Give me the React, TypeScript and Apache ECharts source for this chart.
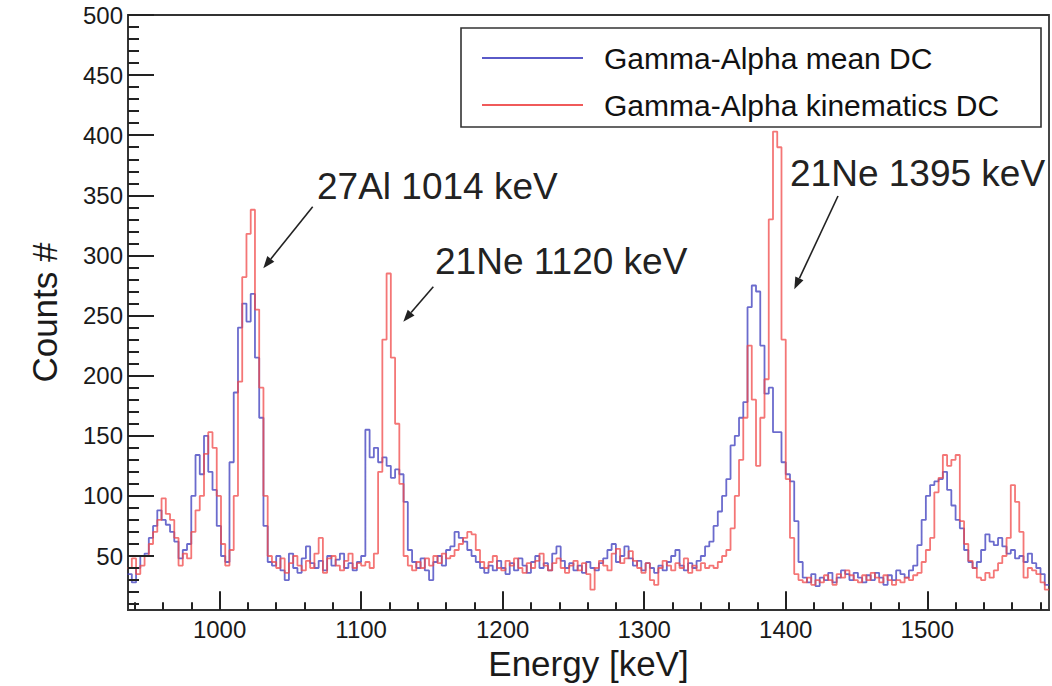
import React, { useEffect, useRef } from "react";
import * as echarts from "echarts";

// ---- data -------------------------------------------------------------
const BIN_START = 935; // keV, lower edge of first bin
const BIN_WIDTH = 3; // keV
const X_MIN = 935.3;
const X_MAX = 1586;
const Y_MIN = 5;
const Y_MAX = 500;

const seriesNames = ["Gamma-Alpha mean DC", "Gamma-Alpha kinematics DC"];

const meanDC = [
  35, 28, 40, 50, 52, 65, 75, 88, 80, 76, 70, 62, 48, 55, 60, 100, 134, 118, 150, 120,
  105, 75, 50, 45, 128, 186, 240, 260, 245, 268, 215, 165, 75, 45,
  42, 50, 38, 30, 52, 40, 36, 48, 58, 44, 40, 46, 38, 50, 42, 47, 52, 40, 44, 38, 45,
  50, 155, 132, 140, 128, 132, 125, 115, 122, 118, 95, 55, 45, 40, 48, 38, 30, 45, 50,
  42, 55, 58, 70, 65, 62, 55, 50, 45, 40,
  36, 42, 38, 46, 40, 35, 44, 38, 48, 42, 36, 45, 50, 40, 44, 38, 52, 58, 46, 40,
  44, 38, 42, 36, 45, 40, 38, 44, 48, 55, 60, 45, 50, 58, 48, 42, 46, 38, 44, 40,
  36, 42, 38, 45, 50, 55, 42, 38, 44, 40, 46, 50, 58,
  62, 75, 87, 100, 114, 142, 150, 165, 178, 257, 275, 270, 225, 185, 190, 153, 153, 128,
  118, 112, 79, 45, 32,
  28, 35, 25, 32, 30, 36, 28, 32, 38, 35, 30, 36, 32, 28, 34, 30, 36, 32, 26, 34, 30, 38,
  35, 32, 38, 42, 59, 80, 100, 109, 112, 114, 120, 105, 92, 80, 73, 55, 45, 40, 45, 55,
  68, 62, 59, 65, 58, 52, 55, 48, 50, 45, 52, 44, 40, 35, 26,
];

const kinematicsDC = [
  40, 48, 35, 42, 50, 60, 70, 80, 98, 85, 80, 65, 42, 52, 48, 70, 88, 100, 135, 153,
  140, 100, 60, 42, 55, 100, 195, 282, 318, 338, 255, 190, 100, 50,
  45, 40, 48, 36, 44, 50, 42, 38, 46, 40, 52, 65, 36, 48, 50, 42, 38, 46, 52, 40, 44,
  42, 45, 40, 52, 120, 230, 285, 215, 160, 110, 50, 42, 38, 45, 40, 48, 42, 50, 44,
  52, 48, 50, 55, 60, 65, 70, 68, 55, 45,
  40, 45, 50, 40, 38, 46, 42, 48, 40, 36, 44, 40, 46, 52, 42, 38, 44, 48, 40, 36,
  42, 46, 38, 44, 35, 22, 40, 46, 42, 38, 52, 56, 44, 48, 54, 46, 40, 36, 44, 30,
  26, 40, 46, 42, 38, 44, 40, 48, 36, 42, 38, 44, 40,
  42, 40, 45, 50, 55, 73, 100, 130, 165, 225, 180, 125, 165, 197, 330, 403, 390, 230,
  114, 65, 35, 30, 28,
  32, 26, 30, 28, 34, 30, 26, 35, 32, 38, 34, 30, 28, 34, 30, 36, 32, 28, 34, 30, 26, 30,
  28, 32, 30, 34, 36, 45, 55, 65, 103, 115, 134, 125, 130, 134, 79, 60, 46, 40, 32, 30,
  36, 32, 38, 44, 50, 65, 109, 95, 70, 32, 40, 38, 35, 28, 22,
];

const xMajorTicks = [1000, 1100, 1200, 1300, 1400, 1500];
const yMajorTicks = [50, 100, 150, 200, 250, 300, 350, 400, 450, 500];
const X_MINOR_STEP = 20;
const Y_MINOR_STEP = 10;

const annotationTexts = ["27Al 1014 keV", "21Ne 1120 keV", "21Ne 1395 keV"];

// ---- layout -----------------------------------------------------------
const W = 1052;
const H = 686;
const GRID = { left: 128, top: 15, right: 3, bottom: 70 };
const PX_PER_KEV = (W - GRID.left - GRID.right) / (X_MAX - X_MIN);
const PX_PER_COUNT = (H - GRID.top - GRID.bottom) / (Y_MAX - Y_MIN);

// ---- helpers ----------------------------------------------------------
function toSteps(values: number[]) {
  const pts: [number, number][] = values.map((v, i) => [BIN_START + i * BIN_WIDTH, v]);
  pts.push([BIN_START + values.length * BIN_WIDTH, values[values.length - 1]]);
  return pts;
}

function range(from: number, to: number, step: number) {
  const out: number[] = [];
  for (let v = from; v <= to + 1e-9; v += step) out.push(v);
  return out;
}

function arrow(x1: number, y1: number, x2: number, y2: number) {
  const dx = x2 - x1;
  const dy = y2 - y1;
  const len = Math.sqrt(dx * dx + dy * dy);
  const ux = dx / len;
  const uy = dy / len;
  const hl = 12;
  const hw = 4.5;
  const bx = x2 - ux * hl;
  const by = y2 - uy * hl;
  return [
    {
      type: "line",
      shape: { x1, y1, x2: bx, y2: by },
      style: { stroke: "#222", lineWidth: 1.6 },
      z: 10,
    },
    {
      type: "polygon",
      shape: {
        points: [
          [x2, y2],
          [bx - uy * hw, by + ux * hw],
          [bx + uy * hw, by - ux * hw],
        ],
      },
      style: { fill: "#222" },
      z: 10,
    },
  ];
}

const FONT = "'Liberation Sans', Arial, Helvetica, sans-serif";

export default function App() {
  const ref = useRef<HTMLDivElement>(null);

  useEffect(() => {
    if (!ref.current) return;
    const chart = echarts.init(ref.current, undefined, { renderer: "svg" });

    const xMinor = range(940, 1580, X_MINOR_STEP).filter((v) => !xMajorTicks.includes(v));
    const yMinor = range(10, 500, Y_MINOR_STEP).filter((v) => !yMajorTicks.includes(v));

    const xTick = (v: number, px: number) => [
      { coord: [v, Y_MIN] },
      { coord: [v, Y_MIN + px / PX_PER_COUNT] },
    ];
    const yTick = (v: number, px: number) => [
      { coord: [X_MIN, v] },
      { coord: [X_MIN + px / PX_PER_KEV, v] },
    ];
    const tickLines = [
      ...xMajorTicks.map((v) => xTick(v, 19)),
      ...xMinor.map((v) => xTick(v, 8)),
      ...yMajorTicks.map((v) => yTick(v, 26)),
      ...yMinor.map((v) => yTick(v, 11)),
    ];

    const annPos = [
      { x: 317, y: 186, a: [312.7, 206.7, 263.3, 268.3] },
      { x: 435, y: 261, a: [433.3, 286.7, 403.3, 321.7] },
      { x: 790, y: 173, a: [838, 196, 794.3, 289.3] },
    ];

    const graphics: any[] = [
      {
        type: "rect",
        shape: { x: 461, y: 28, width: 580, height: 99 },
        style: { fill: "#fff", stroke: "#333", lineWidth: 1.6 },
        z: 3,
      },
    ];
    annPos.forEach((p, i) => {
      graphics.push({
        type: "text",
        x: p.x,
        y: p.y,
        style: {
          text: annotationTexts[i],
          fontSize: 37,
          fontFamily: FONT,
          fill: "#222",
          textVerticalAlign: "middle",
        },
        z: 10,
      });
      graphics.push(...arrow(p.a[0], p.a[1], p.a[2], p.a[3]));
    });

    chart.setOption({
      animation: false,
      backgroundColor: "#fff",
      grid: {
        ...GRID,
        show: true,
        borderColor: "#333",
        borderWidth: 1.8,
        backgroundColor: "transparent",
      },
      xAxis: {
        type: "value",
        position: "bottom",
        min: X_MIN,
        max: X_MAX,
        splitLine: { show: false },
        axisLine: { show: true, lineStyle: { color: "#333", width: 1.8 } },
        axisTick: { show: false },
        name: "Energy [keV]",
        nameLocation: "middle",
        nameGap: 31,
        nameTextStyle: { fontSize: 35, fontFamily: FONT, color: "#1a1a1a" },
        axisLabel: {
          customValues: xMajorTicks,
          formatter: (v: number) => String(v),
          fontSize: 24,
          fontFamily: FONT,
          color: "#1a1a1a",
          margin: 7,
        },
      },
      yAxis: {
        type: "value",
        position: "left",
        min: Y_MIN,
        max: Y_MAX,
        splitLine: { show: false },
        axisLine: { show: true, lineStyle: { color: "#333", width: 1.8 } },
        axisTick: { show: false },
        name: "Counts #",
        nameLocation: "middle",
        nameGap: 66,
        nameTextStyle: { fontSize: 35, fontFamily: FONT, color: "#1a1a1a" },
        axisLabel: {
          customValues: yMajorTicks,
          formatter: (v: number) => String(v),
          fontSize: 24,
          fontFamily: FONT,
          color: "#1a1a1a",
          margin: 5,
        },
      },
      legend: {
        orient: "vertical",
        left: 482,
        top: 42,
        padding: 0,
        itemWidth: 101,
        itemHeight: 2,
        itemGap: 15,
        icon: "rect",
        textStyle: {
          fontSize: 30,
          fontFamily: FONT,
          color: "#111",
          lineHeight: 32,
          padding: [0, 0, 0, 16],
        },
        data: seriesNames,
        z: 5,
      },
      graphic: graphics,
      series: [
        {
          name: seriesNames[0],
          type: "line",
          step: "end",
          data: toSteps(meanDC),
          showSymbol: false,
          color: "#4646c0",
          itemStyle: { color: "#5a5ac8" },
          lineStyle: { color: "#4646c0", width: 1.8, opacity: 0.8 },
          z: 2,
        },
        {
          name: seriesNames[1],
          type: "line",
          step: "end",
          data: toSteps(kinematicsDC),
          showSymbol: false,
          color: "#f04848",
          itemStyle: { color: "#f05a5a" },
          lineStyle: { color: "#f04848", width: 1.8, opacity: 0.75 },
          z: 3,
          markLine: {
            silent: true,
            animation: false,
            symbol: ["none", "none"],
            label: { show: false },
            emphasis: { disabled: true },
            lineStyle: { color: "#222", width: 2, type: "solid", opacity: 1 },
            data: tickLines,
          },
        },
      ],
    });

    return () => chart.dispose();
  }, []);

  return (
    <div
      ref={ref}
      style={{ position: "fixed", left: 0, top: 0, width: W, height: H, background: "#fff" }}
    />
  );
}
